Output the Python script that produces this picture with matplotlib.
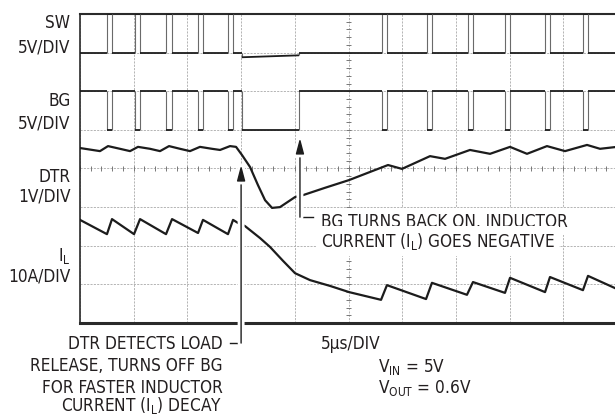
import matplotlib
matplotlib.use("Agg")
import matplotlib.pyplot as plt
import matplotlib.patheffects as pe
from matplotlib.collections import LineCollection
from matplotlib import font_manager
import numpy as np

# Time in microseconds (5us per division, 10 divisions across).
# Trace levels are in screen divisions: 0 = bottom graticule line, 8 = top.
T_END = 50.0

# switch node pulses (SW high / BG low), start and end times
sw_on = [2.47, 5.12, 8.01, 10.99, 13.78, 28.12, 32.31, 36.13, 39.57, 43.30, 46.83]
sw_off = [2.98, 5.59, 8.57, 11.45, 14.25, 28.58, 32.77, 36.59, 40.04, 43.76, 47.30]
sw_low, sw_high = 7.0, 8.0
bg_low, bg_high = 5.0, 6.0
# BG held off after load release, SW sits on the body diode meanwhile
bg_hold = (15.05, 20.40)
sw_diode = (6.88, 6.93)

dtr_t = [0.0, 1.86, 2.61, 3.72, 4.66, 5.40, 6.52, 7.45, 8.29, 9.31, 10.24,
         11.17, 12.29, 13.04, 13.97, 14.53, 15.08, 15.83, 16.57, 17.23, 17.88,
         18.62, 20.02, 20.76, 22.81, 25.05, 27.00, 28.68, 29.98, 32.59, 33.99,
         36.31, 38.18, 40.04, 41.62, 43.48, 45.16, 47.21, 48.42, 50.0]
dtr_y = [4.53, 4.45, 4.58, 4.51, 4.45, 4.56, 4.51, 4.45, 4.58, 4.51, 4.45,
         4.56, 4.51, 4.48, 4.58, 4.56, 4.35, 4.04, 3.57, 3.18, 2.98,
         3.00, 3.26, 3.31, 3.50, 3.70, 3.91, 4.09, 3.99, 4.32, 4.25,
         4.48, 4.38, 4.56, 4.38, 4.58, 4.45, 4.61, 4.51, 4.56]

il_t = [0.0, 2.51, 2.98, 5.03, 5.59, 8.01, 8.57, 10.99, 11.45, 13.78, 14.25,
        14.71, 15.36, 16.76, 17.69, 18.90, 20.02, 21.42, 23.28, 25.05, 28.03,
        28.58, 32.22, 32.77, 36.03, 36.59, 39.57, 40.04, 43.30, 43.76, 46.83,
        47.30, 50.0]
il_y = [2.67, 2.30, 2.69, 2.30, 2.69, 2.30, 2.69, 2.33, 2.67, 2.30, 2.67,
        2.59, 2.51, 2.20, 1.97, 1.61, 1.29, 1.11, 0.96, 0.80, 0.60,
        0.98, 0.62, 1.04, 0.73, 1.06, 0.78, 1.17, 0.80, 1.19, 0.85,
        1.22, 0.88]


def switch_trace(idle, active, hold_levels):
    t, y = [0.0], [idle]
    for a, b in zip(sw_on, sw_off):
        if a > bg_hold[0] and t[-1] < bg_hold[0]:
            t += [bg_hold[0], bg_hold[0], bg_hold[1], bg_hold[1]]
            y += [idle, hold_levels[0], hold_levels[1], idle]
        t += [a, a, b, b]
        y += [idle, active, active, idle]
    t.append(T_END)
    y.append(idle)
    return t, y


sw_t, sw_y = switch_trace(sw_low, sw_high, sw_diode)
bg_t, bg_y = switch_trace(bg_high, bg_low, (bg_low, bg_low))

names = {f.name for f in font_manager.fontManager.ttflist}
family = "Liberation Sans Narrow" if "Liberation Sans Narrow" in names else "DejaVu Sans"
plt.rcParams["font.family"] = [family, "DejaVu Sans"]
plt.rcParams["font.stretch"] = "condensed"

W, H = 615, 415
TXT = "#231f20"
INK = "#1c1c1c"
EDGE = "#6a6a6a"
FS = 12.3

fig = plt.figure(figsize=(W / 100, H / 100), dpi=100)
ax = fig.add_axes([80 / W, (H - 323) / H, 537 / W, 309 / H])
ax.set_xlim(0, T_END)
ax.set_ylim(0, 8)
ax.set_xticks(np.arange(0, T_END + 1, 5))
ax.set_yticks(np.arange(0, 9, 1))
ax.tick_params(length=0, labelbottom=False, labelleft=False)
ax.grid(True, color="#a8a8a8", lw=0.6, ls=(0, (2.5, 1.5)))
ax.set_axisbelow(True)

for side, lw in [("top", 1.5), ("bottom", 2.2), ("left", 1.2)]:
    ax.spines[side].set_linewidth(lw)
    ax.spines[side].set_color("#2a2a2a")
ax.spines["right"].set_visible(False)

# small ticks along the centre crosshair
xs = np.arange(0, T_END + 0.01, 1.0)
ys = np.arange(0, 8.01, 0.2)
ax.vlines(xs, 4 - 0.06, 4 + 0.06, color="#777777", lw=0.7, zorder=1)
ax.hlines(ys, 25 - 0.25, 25 + 0.25, color="#777777", lw=0.7, zorder=1)


def step_trace(t, y):
    # fast edges show up faint on the scope, flat parts dark
    pts = np.column_stack([t, y])
    segs = np.stack([pts[:-1], pts[1:]], axis=1)
    edge = np.isclose(segs[:, 0, 0], segs[:, 1, 0])
    ax.add_collection(LineCollection(segs[edge], colors=EDGE, linewidths=0.8, zorder=3))
    ax.add_collection(LineCollection(segs[~edge], colors=INK, linewidths=1.3,
                                     capstyle="butt", zorder=3))


step_trace(sw_t, sw_y)
step_trace(bg_t, bg_y)
ax.plot(dtr_t, dtr_y, color=INK, lw=1.6, zorder=3)
ax.plot(il_t, il_y, color=INK, lw=1.6, zorder=3)

halo = [pe.Stroke(linewidth=5, foreground="white"), pe.Normal()]


def callout(x, y_tip, y_base, x_leader):
    ax.plot([x_leader, x], [y_base, y_base], color=INK, lw=1.0,
            clip_on=False, zorder=5)
    arr = ax.annotate("", xy=(x, y_tip), xytext=(x, y_base),
                      arrowprops=dict(arrowstyle="-|>,head_length=0.95,head_width=0.25",
                                      color=INK, lw=1.0, shrinkA=0, shrinkB=0),
                      annotation_clip=False, zorder=6)
    arr.arrow_patch.set_path_effects(halo)


callout(15.0, 4.09, -0.52, 13.97)
callout(20.48, 4.79, 2.74, 21.69)


def label(x, y, s, ha="left", **kw):
    fig.text(x / W, 1 - y / H, s, ha=ha, va="baseline", fontsize=FS,
             color=TXT, **kw)


sub_l = r"I$_{\mathregular{L}}$"
for y, s in [(28, "SW"), (52, "5V/DIV"), (106, "BG"), (128, "5V/DIV"),
             (181.5, "DTR"), (201.5, "1V/DIV"), (261, sub_l), (281.5, "10A/DIV")]:
    label(70.5, y, s, ha="right")

for y, s in [(349, "DTR DETECTS LOAD"), (371, "RELEASE, TURNS OFF BG"),
             (392.5, "FOR FASTER INDUCTOR"), (410.5, "CURRENT (" + sub_l + ") DECAY")]:
    label(222.5, y, s, ha="right")

box = dict(facecolor="white", edgecolor="none", pad=3)
label(321, 226.5, "BG TURNS BACK ON, INDUCTOR", bbox=box)
label(321, 246.5, "CURRENT (" + sub_l + ") GOES NEGATIVE", bbox=box)

label(320.5, 349, "5\u00b5s/DIV")
label(378, 371.5, r"V$_{\mathregular{IN}}$ = 5V")
label(378, 392.5, r"V$_{\mathregular{OUT}}$ = 0.6V")

fig.savefig("out.png", dpi=100)
